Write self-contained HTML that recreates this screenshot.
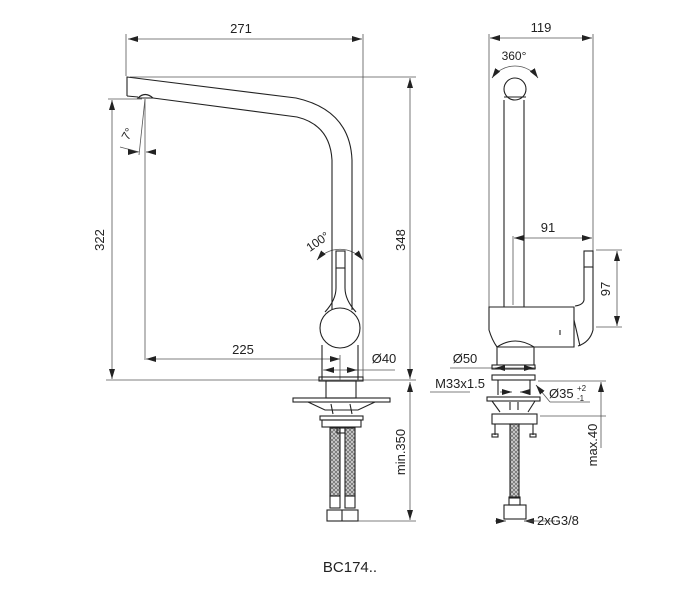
<!DOCTYPE html>
<html><head><meta charset="utf-8"><style>
html,body{margin:0;padding:0;background:#fff;}
svg{display:block;}
text{font-family:"Liberation Sans",Arial,sans-serif;fill:#222;}
</style></head><body>
<svg width="693" height="600" viewBox="0 0 693 600" xmlns="http://www.w3.org/2000/svg">
<defs>
<marker id="a" viewBox="0 0 10 6" refX="10" refY="3" markerWidth="10" markerHeight="6" orient="auto-start-reverse" markerUnits="userSpaceOnUse"><path d="M0,0 L10,3 L0,6 z" fill="#222"/></marker>
<pattern id="h" width="4" height="4" patternUnits="userSpaceOnUse"><rect width="4" height="4" fill="#ccc"/><path d="M0,4 L4,0 M0,0 L4,4" stroke="#555" stroke-width="0.6"/></pattern>
</defs>
<g fill="none" stroke="#555" stroke-width="0.8">
<!-- LEFT VIEW dimension lines -->
<line x1="126" y1="34" x2="126" y2="76"/>
<line x1="363" y1="34" x2="363" y2="380"/>
<line x1="128" y1="39" x2="362" y2="39" marker-start="url(#a)" marker-end="url(#a)"/>
<line x1="130" y1="77" x2="416" y2="77"/>
<line x1="410" y1="78" x2="410" y2="379" marker-start="url(#a)" marker-end="url(#a)"/>
<line x1="108" y1="99" x2="142" y2="99"/>
<line x1="112" y1="100" x2="112" y2="379" marker-start="url(#a)" marker-end="url(#a)"/>
<line x1="106" y1="380" x2="416" y2="380"/>
<line x1="145" y1="99" x2="145" y2="360"/>
<line x1="145" y1="99" x2="139" y2="155"/>
<line x1="120" y1="147" x2="139" y2="152"/>
<line x1="128" y1="152" x2="138" y2="152" marker-end="url(#a)"/>
<line x1="156" y1="152" x2="146" y2="152" marker-end="url(#a)"/>
<line x1="146" y1="359" x2="340" y2="359" marker-start="url(#a)" marker-end="url(#a)"/>
<line x1="340" y1="355" x2="340" y2="380"/>
<line x1="323" y1="370" x2="395" y2="370"/>
<line x1="324" y1="370" x2="333" y2="370" marker-start="url(#a)"/>
<line x1="346" y1="370" x2="357" y2="370" marker-end="url(#a)"/>
<path d="M317,260 A30,30 0 0 1 363,260" marker-start="url(#a)" marker-end="url(#a)"/>
<line x1="340" y1="521" x2="416" y2="521"/>
<line x1="410" y1="382" x2="410" y2="520" marker-start="url(#a)" marker-end="url(#a)"/>
</g>
<g fill="none" stroke="#222" stroke-width="1.1">
<!-- spout -->
<path d="M127,96 L127,77 L296,98 Q350,110 352,160 L352,310"/>
<path d="M127,96 L138,97 M153,98 L297,117 Q330,125 332,160 L332,312"/>
<path d="M138,98 Q145,91 153,98 Z"/>
<!-- lever -->
<rect x="336" y="251" width="9" height="17"/>
<path d="M336,268 L336,288 Q336,300 325,312 M345,268 L345,288 Q345,300 356,312"/>
<circle cx="340" cy="328" r="20" fill="#fff"/>
<path d="M322,345 L322,380 M358,345 L358,380"/>
<!-- base left -->
<rect x="319" y="377" width="44" height="4"/>
<rect x="326" y="381" width="30" height="17"/>
<rect x="293" y="398" width="97" height="4"/>
<path d="M308,402 L325,410 L358,410 L375,402"/>
<path d="M331,404 L333,414 M350,404 L352,414"/>
<rect x="320" y="416" width="43" height="4"/>
<rect x="322" y="420" width="39" height="7"/>
<rect x="330" y="428" width="10" height="68" fill="url(#h)"/>
<rect x="345" y="428" width="10" height="68" fill="url(#h)"/>
<rect x="337" y="428" width="8" height="5"/>
<rect x="330" y="496" width="10" height="12"/>
<rect x="345" y="496" width="10" height="12"/>
<rect x="327" y="510" width="31" height="11"/>
<line x1="342" y1="510" x2="342" y2="521"/>
</g>
<g fill="none" stroke="#555" stroke-width="0.8">
<!-- RIGHT VIEW dims -->
<line x1="489" y1="34" x2="489" y2="307"/>
<line x1="593" y1="34" x2="593" y2="252"/>
<line x1="490" y1="38" x2="592" y2="38" marker-start="url(#a)" marker-end="url(#a)"/>
<path d="M492,78 A28,28 0 0 1 538,78" marker-start="url(#a)" marker-end="url(#a)"/>
<line x1="513" y1="236" x2="513" y2="305"/>
<line x1="514" y1="238" x2="592" y2="238" marker-start="url(#a)" marker-end="url(#a)"/>
<line x1="596" y1="250" x2="622" y2="250"/>
<line x1="596" y1="327" x2="622" y2="327"/>
<line x1="617" y1="251" x2="617" y2="326" marker-start="url(#a)" marker-end="url(#a)"/>
<line x1="450" y1="368" x2="536" y2="368"/>
<line x1="495" y1="368" x2="504" y2="368" marker-start="url(#a)"/>
<line x1="526" y1="368" x2="534" y2="368" marker-end="url(#a)"/>
<line x1="430" y1="392" x2="470" y2="392"/>
<line x1="500" y1="392" x2="512" y2="392" marker-end="url(#a)"/>
<line x1="530" y1="392" x2="520" y2="392" marker-end="url(#a)"/>
<line x1="550" y1="402" x2="536" y2="385" marker-end="url(#a)"/>
<line x1="550" y1="402" x2="590" y2="402"/>
<line x1="538" y1="381" x2="606" y2="381"/>
<line x1="540" y1="416" x2="606" y2="416"/>
<line x1="601" y1="382" x2="601" y2="448" marker-start="url(#a)"/>
<line x1="495" y1="521" x2="506" y2="521" marker-end="url(#a)"/>
<line x1="535" y1="521" x2="524" y2="521" marker-end="url(#a)"/>
<line x1="524" y1="521" x2="555" y2="521"/>
</g>
<g fill="none" stroke="#222" stroke-width="1.1">
<circle cx="515" cy="89" r="11"/>
<path d="M504,97 L526,97 M504,100 L504,307 M524,100 L524,307"/>
<rect x="584" y="251" width="9" height="16"/>
<path d="M584,267 L584,300 Q583,305 575,306 M593,267 L593,330 Q590,342 578,346"/>
<path d="M489,307 L574,307 L574,347 L497,347 Q492,340 489,330 Z"/>
<path d="M574,320 L580,346"/>
<path d="M497,347 Q515,335 534,347 L534,365 M497,347 L497,365"/>
<line x1="560" y1="330" x2="560" y2="335"/>
<rect x="492" y="365" width="43" height="4"/>
<rect x="492" y="375" width="43" height="5"/>
<path d="M498,380 L498,395 M530,380 L530,395"/>
<rect x="487" y="397" width="53" height="4"/>
<path d="M492,401 L500,412 M535,401 L528,412 M510,402 L510,410 M518,402 L518,410"/>
<rect x="492" y="414" width="45" height="10"/>
<path d="M495,424 L495,435 M533,424 L533,435"/>
<rect x="492" y="434" width="6" height="3"/>
<rect x="530" y="434" width="6" height="3"/>
<rect x="510" y="424" width="9" height="74" fill="url(#h)"/>
<rect x="509" y="497" width="11" height="8"/>
<rect x="504" y="505" width="22" height="14"/>
</g>
<!-- text -->
<text x="241" y="33" font-size="13" text-anchor="middle">271</text>
<text x="243" y="354" font-size="13" text-anchor="middle">225</text>
<text x="384" y="363" font-size="13" text-anchor="middle">Ø40</text>
<text transform="translate(104,240) rotate(-90)" font-size="13" text-anchor="middle">322</text>
<text transform="translate(405,240) rotate(-90)" font-size="13" text-anchor="middle">348</text>
<text transform="translate(405,452) rotate(-90)" font-size="13" text-anchor="middle">min.350</text>
<text transform="translate(131,136) rotate(-60)" font-size="12" text-anchor="middle">7°</text>
<text transform="translate(320,245) rotate(-35)" font-size="12" text-anchor="middle">100°</text>
<text x="541" y="32" font-size="13" text-anchor="middle">119</text>
<text x="514" y="60" font-size="12" text-anchor="middle">360°</text>
<text x="548" y="232" font-size="13" text-anchor="middle">91</text>
<text transform="translate(610,289) rotate(-90)" font-size="13" text-anchor="middle">97</text>
<text x="465" y="363" font-size="13" text-anchor="middle">Ø50</text>
<text x="460" y="388" font-size="13" text-anchor="middle">M33x1.5</text>
<text x="549" y="398" font-size="13">Ø35</text>
<text x="577" y="391" font-size="8">+2</text>
<text x="577" y="401" font-size="8">-1</text>
<text transform="translate(597,445) rotate(-90)" font-size="13" text-anchor="middle">max.40</text>
<text x="537" y="525" font-size="13">2xG3/8</text>
<text x="350" y="572" font-size="15" text-anchor="middle">BC174..</text>
</svg>
</body></html>
